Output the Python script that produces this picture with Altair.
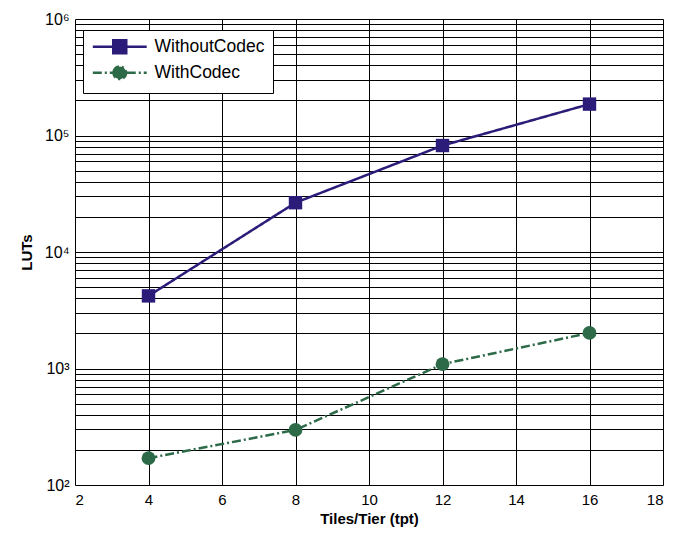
import altair as alt
import pandas as pd

tiles = [4, 8, 12, 16]
without_codec = [4200, 26500, 82000, 186000]
with_codec = [170, 297, 1090, 2020]
series_names = ["WithoutCodec", "WithCodec"]
series_colors = ["#2A1C78", "#2C6A48"]
x_ticks = [2, 4, 6, 8, 10, 12, 14, 16, 18]
y_grid = [m * 10 ** e for e in range(2, 6) for m in range(1, 10)] + [10 ** 6]

rows = []
for name, vals in zip(series_names, [without_codec, with_codec]):
    for t, v in zip(tiles, vals):
        rows.append({"tiles": t, "luts": v, "series": name})
df = pd.DataFrame(rows)

FONT = "Liberation Sans"

x_enc = alt.X(
    "tiles:Q",
    scale=alt.Scale(domain=[2, 18], nice=False, zero=False),
    axis=alt.Axis(
        values=x_ticks, title="Tiles/Tier (tpt)", grid=True, gridColor="#000000",
        gridOpacity=1, gridWidth=1, ticks=False, domain=False, labelFontSize=15,
        labelFont=FONT, labelColor="#000", labelPadding=7, titleFont=FONT,
        titleFontSize=15, titleFontWeight="bold", titleColor="#000", titlePadding=4,
    ),
)
y_enc = alt.Y(
    "luts:Q",
    scale=alt.Scale(type="log", domain=[100, 1000000], nice=False),
    axis=alt.Axis(
        values=y_grid, title="LUTs", grid=True, gridColor="#000000", gridOpacity=1,
        gridWidth=1, ticks=False, domain=False, labelFontSize=16, labelFont=FONT,
        labelColor="#000", labelPadding=6, labelFlush=False,
        labelExpr="datum.value==100?'10²':datum.value==1000?'10³':datum.value==10000?'10⁴':datum.value==100000?'10⁵':datum.value==1000000?'10⁶':''",
        titleFont=FONT, titleFontSize=15, titleFontWeight="bold", titleColor="#000",
        titlePadding=10,
    ),
)

color_scale = alt.Scale(domain=series_names, range=series_colors)
dash_scale = alt.Scale(domain=series_names, range=[[1, 0], [9, 3, 2, 3]])
sq_path = "M-3.85,0H-0.93M0.93,0H3.85M-0.93,-0.93H0.93V0.93H-0.93Z"
ci_path = "M-3.85,0H-1M1,0H3.85M-0.9,0A0.9,0.9,0,1,1,0.9,0A0.9,0.9,0,1,1,-0.9,0Z"
shape_scale = alt.Scale(domain=series_names, range=[sq_path, ci_path])

leg = alt.Legend(
    title=None, orient="none", legendX=8, legendY=11, fillColor="white",
    strokeColor="#000", padding=8, symbolSize=196, symbolStrokeWidth=2.5,
    symbolOffset=20, labelFont=FONT, labelFontSize=17.5, labelColor="#000",
    labelOffset=26, rowPadding=2, symbolOpacity=1,
)

base = alt.Chart(df)

lines = base.mark_line(strokeWidth=2.5).encode(
    x=x_enc, y=y_enc,
    stroke=alt.Stroke("series:N", scale=color_scale, legend=leg),
    strokeDash=alt.StrokeDash("series:N", scale=dash_scale, legend=leg),
)
squares = base.transform_filter(alt.datum.series == series_names[0]).mark_point(
    shape="square", filled=True, size=180, opacity=1
).encode(
    x=x_enc, y=y_enc,
    fill=alt.Fill("series:N", scale=color_scale, legend=leg),
)
circles = base.transform_filter(alt.datum.series == series_names[1]).mark_point(
    shape="circle", filled=True, size=190, opacity=1
).encode(
    x=x_enc, y=y_enc,
    fill=alt.Fill("series:N", scale=color_scale, legend=leg),
)
legend_layer = base.transform_filter("false").mark_point(
    filled=True, strokeWidth=2.5, opacity=1
).encode(
    x=x_enc, y=y_enc,
    fill=alt.Fill("series:N", scale=color_scale, legend=leg),
    stroke=alt.Stroke("series:N", scale=color_scale, legend=leg),
    shape=alt.Shape("series:N", scale=shape_scale, legend=leg),
    strokeDash=alt.StrokeDash("series:N", scale=dash_scale, legend=leg),
)

chart = alt.layer(lines, squares, circles, legend_layer).properties(
    width=588, height=466,
    autosize=alt.AutoSizeParams(type="none"),
    padding={"left": 75, "top": 19, "right": 27, "bottom": 49},
).configure_view(stroke="#000", strokeWidth=1.5).configure(background="white")

chart.save("out.html", embed_options={"renderer": "svg", "actions": False})
